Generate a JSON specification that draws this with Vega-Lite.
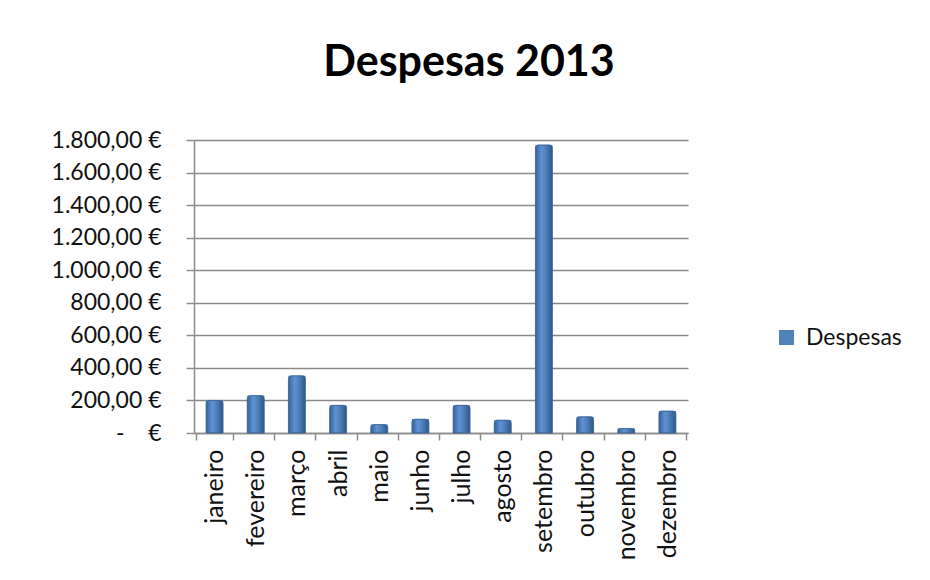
{
  "$schema": "https://vega.github.io/schema/vega-lite/v6.json",
  "width": 494,
  "height": 293,
  "padding": {"left": 51, "top": 42, "right": 10, "bottom": 5},
  "background": "white",
  "title": {"text": "Despesas 2013", "font": "Lato", "fontSize": 43, "fontWeight": "bold", "color": "#000000", "offset": 44, "anchor": "middle", "dx": 28},
  "config": {"view": {"stroke": null}},
  "data": {"values": [
    {"mes": "janeiro", "valor": 200, "serie": "Despesas"},
    {"mes": "fevereiro", "valor": 230, "serie": "Despesas"},
    {"mes": "março", "valor": 352, "serie": "Despesas"},
    {"mes": "abril", "valor": 170, "serie": "Despesas"},
    {"mes": "maio", "valor": 52, "serie": "Despesas"},
    {"mes": "junho", "valor": 85, "serie": "Despesas"},
    {"mes": "julho", "valor": 170, "serie": "Despesas"},
    {"mes": "agosto", "valor": 79, "serie": "Despesas"},
    {"mes": "setembro", "valor": 1770, "serie": "Despesas"},
    {"mes": "outubro", "valor": 100, "serie": "Despesas"},
    {"mes": "novembro", "valor": 28, "serie": "Despesas"},
    {"mes": "dezembro", "valor": 135, "serie": "Despesas"}
  ]},
  "encoding": {
    "x": {"field": "mes", "type": "nominal", "sort": null, "title": null,
      "axis": {"labelAngle": -90, "labelFont": "Lato", "labelFontSize": 25, "labelColor": "#111111", "tickBand": "extent", "tickSize": 7, "tickColor": "#8c8c8c", "tickWidth": 1.5, "domainColor": "#8c8c8c", "domainWidth": 1.5, "labelPadding": 9}},
    "y": {"field": "valor", "type": "quantitative", "title": null,
      "scale": {"domain": [0, 1800], "nice": false},
      "axis": {"values": [0, 200, 400, 600, 800, 1000, 1200, 1400, 1600, 1800],
        "labelExpr": "datum.value == 0 ? '-\u00a0\u00a0\u00a0\u00a0€' : replace(replace(replace(format(datum.value, ',.2f'), ',', '#'), '.', ','), '#', '.') + ' €'",
        "labelFont": "Lato", "labelFontSize": 23, "labelColor": "#111111", "labelPadding": 25,
        "tickSize": 8, "tickColor": "#8c8c8c", "tickWidth": 1.5, "domainColor": "#8c8c8c", "domainWidth": 1.5,
        "gridColor": "#8a8a8a", "gridWidth": 1.5}}
  },
  "layer": [
    {
      "mark": {"type": "bar", "width": 17},
      "encoding": {
        "color": {"field": "serie", "type": "nominal", "title": null,
          "scale": {"range": ["#4F81BD"]},
          "legend": {"orient": "none", "legendX": 581, "legendY": 186, "symbolType": "square", "symbolSize": 225, "symbolStrokeWidth": 0, "labelFont": "Lato", "labelFontSize": 23, "labelColor": "#111111", "labelOffset": 8}}
      }
    },
    {
      "mark": {"type": "bar", "width": 17, "cornerRadiusTopLeft": 3, "cornerRadiusTopRight": 3,
        "color": {"gradient": "linear", "x1": 0, "x2": 1, "y1": 0, "y2": 0,
          "stops": [{"offset": 0, "color": "#36609A"}, {"offset": 0.35, "color": "#5E92D2"}, {"offset": 0.6, "color": "#4F81BD"}, {"offset": 1, "color": "#2F5687"}]},
        "stroke": "#3A6599", "strokeWidth": 0.8}
    }
  ]
}
